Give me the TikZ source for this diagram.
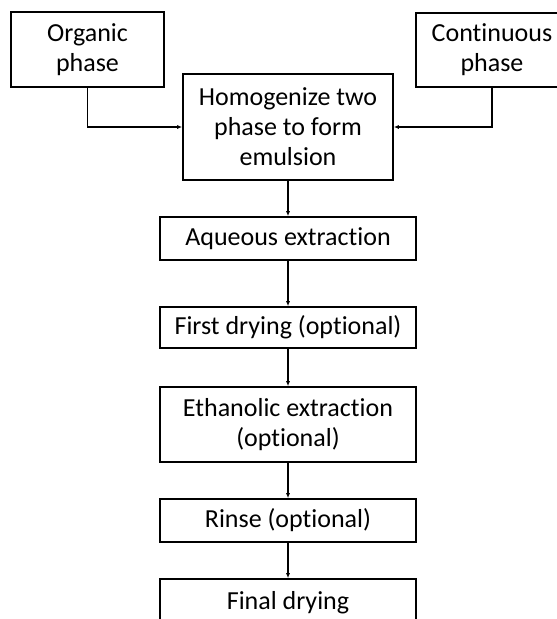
\documentclass[tikz,border=0pt]{standalone}
\usepackage{fontspec}
\setmainfont{Carlito}[Ligatures=NoCommon]
\usetikzlibrary{arrows.meta}

\begin{document}
\begin{tikzpicture}[x=1pt,y=-1pt,
	stepbox/.style={draw,line width=1.6pt,align=center,inner sep=0pt,
		font=\fontsize{26}{30}\selectfont},
	flow/.style={line width=1.3pt,-{Latex[length=5pt,width=4pt]}}]

\useasboundingbox (0,0) rectangle (557,619);
\clip (0,0) rectangle (557,619);

\node[stepbox,minimum width=153,minimum height=75] (organic) at (87.5,49.5) {Organic\\phase};
\node[stepbox,minimum width=152,minimum height=74] (continuous) at (492,50) {Continuous\\phase};
\node[stepbox,minimum width=210,minimum height=106] (homog) at (288,127) {Homogenize two\\phase to form\\emulsion};

\node[stepbox,minimum width=256,minimum height=43] (aqueous) at (288,238.5) {Aqueous extraction};
\node[stepbox,minimum width=256,minimum height=41] (firstdry) at (288,327.5) {First drying (optional)};
\node[stepbox,minimum width=256,minimum height=75] (ethanol) at (288,424.5) {Ethanolic extraction\\(optional)};
\node[stepbox,minimum width=256,minimum height=43] (rinse) at (288,520.5) {Rinse (optional)};
\node[stepbox,minimum width=256,minimum height=47] (finaldry) at (288,602.5) {Final drying};

\draw[flow] (organic.south) |- (homog.west);
\draw[flow] (continuous.south) |- (homog.east);

\draw[flow] (homog) -- (aqueous);
\draw[flow] (aqueous) -- (firstdry);
\draw[flow] (firstdry) -- (ethanol);
\draw[flow] (ethanol) -- (rinse);
\draw[flow] (rinse) -- (finaldry);

\end{tikzpicture}
\end{document}
